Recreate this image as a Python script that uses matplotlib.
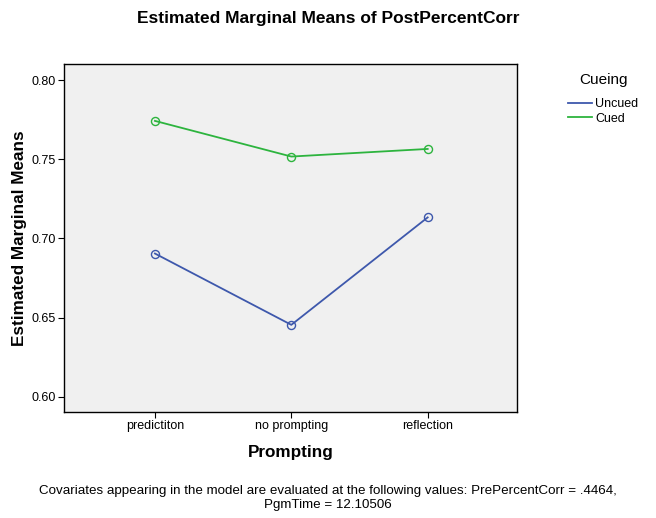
import matplotlib
matplotlib.use("Agg")
import matplotlib.pyplot as plt
from matplotlib.lines import Line2D

plt.rcParams['font.family'] = ['Liberation Sans', 'DejaVu Sans']

categories = ["predictiton", "no prompting", "reflection"]
uncued = [0.6905, 0.6455, 0.7133]
cued = [0.7742, 0.7517, 0.7565]
yticks = [0.60, 0.65, 0.70, 0.75, 0.80]

blue = "#3E58AC"
green = "#2DB43E"

fig = plt.figure(figsize=(6.56, 5.18), dpi=100)
ax = fig.add_axes([64/656, 1-412/518, (517-64)/656, (412-64)/518])
ax.set_facecolor("#F0F0F0")
x = list(range(len(categories)))
ax.plot(x, uncued, color=blue, lw=1.3, marker='o', ms=5.8, mfc='none', mec=blue, mew=1.0)
ax.plot(x, cued, color=green, lw=1.3, marker='o', ms=5.8, mfc='none', mec=green, mew=1.0)
ax.set_xlim(-0.667, 2.655)
ax.set_ylim(0.5905, 0.8101)
ax.set_xticks(x)
ax.set_xticklabels(categories, fontsize=9)
ax.set_yticks(yticks)
ax.set_yticklabels([f"{v:.2f}" for v in yticks], fontsize=9)
ax.tick_params(direction='out', length=4, width=0.8, color='black', pad=2)
for s in ax.spines.values():
    s.set_linewidth(1.0)
    s.set_color('black')
ax.set_xlabel("Prompting", fontsize=12.3, fontweight='bold', labelpad=9)
ax.set_ylabel("Estimated Marginal Means", fontsize=12.3, fontweight='bold', labelpad=3)

fig.text(0.5, 1-18/518, "Estimated Marginal Means of PostPercentCorr", ha='center', va='center',
         fontsize=12.5, fontweight='bold')

handles = [Line2D([0], [0], color=blue, lw=1.3), Line2D([0], [0], color=green, lw=1.3)]
leg = fig.legend(handles, ["Uncued", "Cued"], title="Cueing", loc='upper left',
                 bbox_to_anchor=(557/656, 1-62/518), frameon=False, fontsize=9,
                 title_fontsize=11, handlelength=1.9, handletextpad=0.25, labelspacing=0.2)
leg._legend_box.sep = 8

fig.text(0.5, 1-498/518, "Covariates appearing in the model are evaluated at the following values: PrePercentCorr = .4464,\nPgmTime = 12.10506",
         ha='center', va='center', fontsize=9.6, linespacing=1.15)

fig.savefig("out.png", dpi=100, facecolor='white')
